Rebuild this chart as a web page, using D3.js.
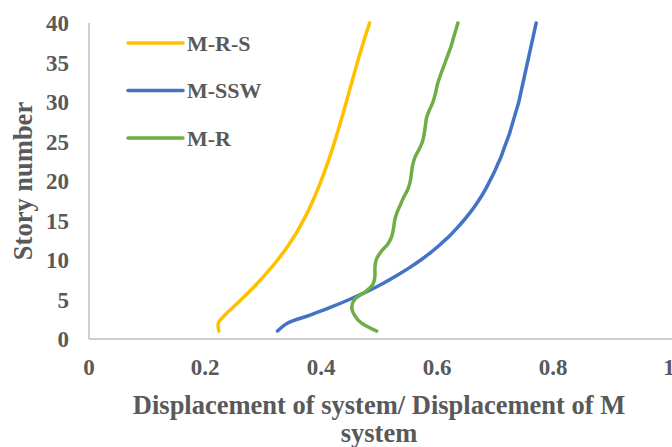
<!DOCTYPE html>
<html>
<head>
<meta charset="utf-8">
<script src="https://cdn.jsdelivr.net/npm/d3@7"></script>
<style>
  html, body { margin: 0; padding: 0; background: #fff; }
  svg { display: block; font-family: "Liberation Serif", "Times New Roman", serif; font-weight: bold; }
</style>
</head>
<body>
<svg id="chart" width="672" height="447"></svg>
<script>
// story numbers 1..40
const stories = d3.range(1, 41);

// displacement ratios, one per story
const mrs = [0.224, 0.223, 0.234, 0.248, 0.2625, 0.2765, 0.2895, 0.302, 0.314, 0.325,
             0.3355, 0.345, 0.354, 0.362, 0.3695, 0.3765, 0.383, 0.389, 0.3947, 0.4001,
             0.4052, 0.4101, 0.4148, 0.4193, 0.4236, 0.4278, 0.4319, 0.4359, 0.4398, 0.4436,
             0.4474, 0.4512, 0.455, 0.4588, 0.4627, 0.4667, 0.4708, 0.475, 0.4793, 0.4837];
const mssw = [0.325, 0.342, 0.380, 0.416, 0.449, 0.479, 0.506, 0.530, 0.552, 0.572,
              0.590, 0.606, 0.621, 0.634, 0.646, 0.657, 0.667, 0.676, 0.684, 0.691,
              0.698, 0.704, 0.710, 0.715, 0.720, 0.725, 0.729, 0.733, 0.737, 0.741,
              0.744, 0.747, 0.750, 0.753, 0.756, 0.759, 0.762, 0.765, 0.768, 0.771];
const mr = [0.496, 0.470, 0.458, 0.453, 0.458, 0.477, 0.490, 0.493, 0.493, 0.495,
            0.503, 0.515, 0.522, 0.525, 0.527, 0.531, 0.537, 0.543, 0.550, 0.554,
            0.556, 0.558, 0.562, 0.569, 0.575, 0.578, 0.580, 0.582, 0.587, 0.593,
            0.597, 0.600, 0.604, 0.609, 0.614, 0.619, 0.624, 0.628, 0.632, 0.636];

const seriesNames = ["M-R-S", "M-SSW", "M-R"];
const seriesColors = ["#FFC000", "#4472C4", "#70AD47"];
const seriesValues = [mrs, mssw, mr];

const xTicks = [0, 0.2, 0.4, 0.6, 0.8, 1];
const yTicks = [0, 5, 10, 15, 20, 25, 30, 35, 40];

const svg = d3.select("#chart");
const textColor = "#595959";
const axisColor = "#bfbfbf";

const x = d3.scaleLinear().domain([0, 1]).range([89, 669]);
const y = d3.scaleLinear().domain([0, 40]).range([339, 23]);

// axis lines
svg.append("line")
  .attr("x1", x(0)).attr("x2", 672)
  .attr("y1", y(0)).attr("y2", y(0))
  .attr("stroke", axisColor).attr("stroke-width", 1.5);
svg.append("line")
  .attr("x1", x(0)).attr("x2", x(0))
  .attr("y1", y(0)).attr("y2", y(40))
  .attr("stroke", axisColor).attr("stroke-width", 1.5);

// tick labels
svg.append("g").selectAll("text")
  .data(xTicks).join("text")
  .attr("x", d => x(d))
  .attr("y", 375)
  .attr("text-anchor", "middle")
  .attr("font-size", 23)
  .attr("fill", textColor)
  .text(d => d);

svg.append("g").selectAll("text")
  .data(yTicks).join("text")
  .attr("x", 69)
  .attr("y", d => y(d) + 8)
  .attr("text-anchor", "end")
  .attr("font-size", 23)
  .attr("fill", textColor)
  .text(d => d);

// axis titles
svg.append("text")
  .attr("x", x(0.5)).attr("y", 414)
  .attr("text-anchor", "middle")
  .attr("font-size", 26.5)
  .attr("fill", textColor)
  .text("Displacement of system/ Displacement of M");
svg.append("text")
  .attr("x", x(0.5)).attr("y", 442)
  .attr("text-anchor", "middle")
  .attr("font-size", 26.5)
  .attr("fill", textColor)
  .text("system");
svg.append("text")
  .attr("transform", `translate(32,${(y(0) + y(40)) / 2}) rotate(-90)`)
  .attr("text-anchor", "middle")
  .attr("font-size", 26.5)
  .attr("fill", textColor)
  .text("Story number");

// series lines (smoothed like the original)
const line = d3.line()
  .x(d => x(d[0]))
  .y(d => y(d[1]))
  .curve(d3.curveCatmullRom.alpha(0.5));

seriesValues.forEach((vals, i) => {
  svg.append("path")
    .datum(vals.map((v, j) => [v, stories[j]]))
    .attr("d", line)
    .attr("fill", "none")
    .attr("stroke", seriesColors[i])
    .attr("stroke-width", 3.5)
    .attr("stroke-linecap", "round")
    .attr("stroke-linejoin", "round");
});

// legend
const legend = svg.append("g").selectAll("g")
  .data(seriesNames).join("g")
  .attr("transform", (d, i) => `translate(128,${43 + i * 47.5})`);
legend.append("line")
  .attr("x1", 0).attr("x2", 55)
  .attr("stroke", (d, i) => seriesColors[i])
  .attr("stroke-width", 3.5)
  .attr("stroke-linecap", "round");
legend.append("text")
  .attr("x", 59).attr("y", 7.5)
  .attr("font-size", 22)
  .attr("fill", textColor)
  .text(d => d);
</script>
</body>
</html>
